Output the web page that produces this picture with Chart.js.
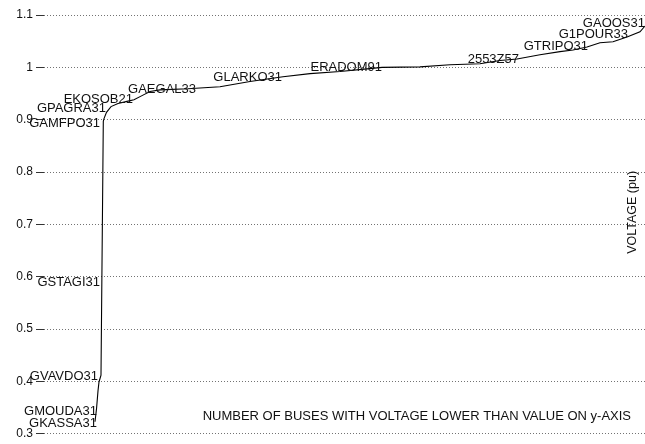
<!DOCTYPE html>
<html>
<head>
<meta charset="utf-8">
<script src="https://cdn.jsdelivr.net/npm/chart.js@4/dist/chart.umd.min.js"></script>
<style>
html,body{margin:0;padding:0;background:#fff;}
#wrap{width:645px;height:444px;}
</style>
</head>
<body>
<div id="wrap"><canvas id="c" width="645" height="444"></canvas></div>
<script>
// Buses sorted by voltage (x = bus rank, y = voltage in pu)
const busRank = [51, 52.5, 54, 55, 57, 59.3, 60, 62.5, 67, 74, 83, 90, 98, 106, 116, 144, 176, 206, 239, 266, 296, 323, 338, 376, 406, 436, 456, 473, 496, 516, 529, 543, 556, 569, 583, 596, 601];
const voltage = [0.323, 0.3475, 0.382, 0.399, 0.412, 0.897, 0.902, 0.914, 0.925, 0.931, 0.935, 0.938, 0.946, 0.954, 0.957, 0.959, 0.963, 0.973, 0.982, 0.988, 0.992, 0.997, 1.0, 1.001, 1.005, 1.007, 1.013, 1.016, 1.024, 1.030, 1.033, 1.039, 1.047, 1.049, 1.058, 1.068, 1.079];

// Named buses annotated along the curve
const busNames = ["GKASSA31", "GMOUDA31", "GVAVDO31", "GSTAGI31", "GAMFPO31", "GPAGRA31", "EKOSOB21", "GAEGAL33", "GLARKO31", "ERADOM91", "2553Z57", "GTRIPO31", "G1POUR33", "GAOOS31"];
const busNameRank = [53, 53, 54, 56, 56, 62, 89, 152, 238, 338, 475, 544, 584, 601];
const busNameVolt = [0.321, 0.3455, 0.412, 0.592, 0.894, 0.923, 0.940, 0.959, 0.982, 1.001, 1.018, 1.042, 1.065, 1.086];

// Axis
const yTicks = [0.3, 0.4, 0.5, 0.6, 0.7, 0.8, 0.9, 1.0, 1.1];
const xTitle = "NUMBER OF BUSES WITH VOLTAGE LOWER THAN VALUE ON y-AXIS";
const yTitle = "VOLTAGE (pu)";

const FONT = "'Liberation Sans', Arial, Helvetica, sans-serif";

const annotate = {
  id: 'annotate',
  afterDatasetsDraw(chart) {
    const ctx = chart.ctx;
    const xs = chart.scales.x, ys = chart.scales.y;
    const a = chart.chartArea;
    ctx.save();
    ctx.fillStyle = '#111';
    ctx.font = '13px ' + FONT;
    ctx.textAlign = 'right';
    ctx.textBaseline = 'middle';
    busNames.forEach((n, i) => {
      ctx.fillText(n, xs.getPixelForValue(busNameRank[i]), ys.getPixelForValue(busNameVolt[i]) + 1);
    });
    // x title inside plot, bottom right
    ctx.font = '13px ' + FONT;
    ctx.fillText(xTitle, a.right - 14, ys.getPixelForValue(0.3) - 17);
    // y title rotated, right side
    ctx.translate(a.right - 12, (a.top + a.bottom) / 2 - 12);
    ctx.rotate(-Math.PI / 2);
    ctx.textAlign = 'center';
    ctx.font = '12.5px ' + FONT;
    ctx.fillText(yTitle, 0, 0);
    ctx.restore();
  }
};

new Chart(document.getElementById('c'), {
  type: 'line',
  data: {
    datasets: [{
      data: busRank.map((r, i) => ({x: r, y: voltage[i]})),
      borderColor: '#000',
      borderWidth: 1.1,
      pointRadius: 0,
      tension: 0,
      fill: false,
      clip: false
    }]
  },
  options: {
    responsive: false,
    animation: false,
    events: [],
    layout: { padding: { top: 15, bottom: 8, left: 0, right: 0 } },
    plugins: { legend: { display: false }, tooltip: { enabled: false } },
    scales: {
      x: { type: 'linear', display: false, min: 0, max: 601 },
      y: {
        type: 'linear',
        min: 0.3, max: 1.1,
        afterFit(s) { s.width = 44; },
        afterBuildTicks(s) { s.ticks = yTicks.map(v => ({value: v})); },
        ticks: {
          color: '#111',
          font: { family: FONT, size: 12 },
          padding: 3,
          callback: v => String(Number(v.toFixed(1)))
        },
        border: { display: false, dash: [1, 2] },
        grid: {
          color: 'rgba(0,0,0,0.55)',
          lineWidth: 1,
          tickLength: 8,
          tickColor: '#333',
          tickBorderDash: []
        }
      }
    }
  },
  plugins: [annotate]
});
</script>
</body>
</html>
